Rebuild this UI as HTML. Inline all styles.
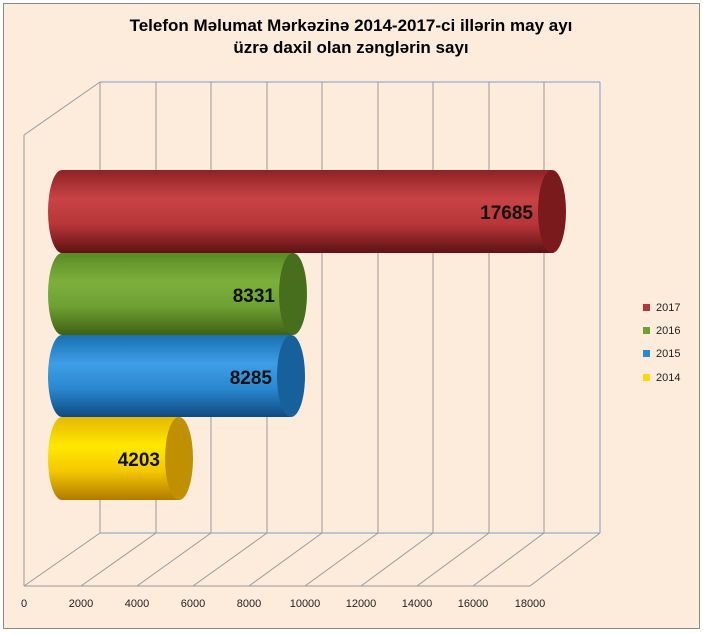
<!DOCTYPE html>
<html><head><meta charset="utf-8"><style>
html,body{margin:0;padding:0;background:#fff}
svg{display:block}
text{font-family:"Liberation Sans",Arial,sans-serif}
</style></head><body>
<svg width="703" height="634" viewBox="0 0 703 634" xmlns="http://www.w3.org/2000/svg">
<defs>
<linearGradient id="gr" x1="0" y1="0" x2="0" y2="1"><stop offset="0" stop-color="#8e2224"/><stop offset="0.35" stop-color="#c84345"/><stop offset="0.65" stop-color="#b83638"/><stop offset="1" stop-color="#5e1213"/></linearGradient>
<linearGradient id="gg" x1="0" y1="0" x2="0" y2="1"><stop offset="0" stop-color="#5a8a24"/><stop offset="0.35" stop-color="#7cb03c"/><stop offset="0.65" stop-color="#6fa032"/><stop offset="1" stop-color="#3d6115"/></linearGradient>
<linearGradient id="gb" x1="0" y1="0" x2="0" y2="1"><stop offset="0" stop-color="#1a6fb0"/><stop offset="0.35" stop-color="#3d9ee6"/><stop offset="0.65" stop-color="#2a88d0"/><stop offset="1" stop-color="#0e4a80"/></linearGradient>
<linearGradient id="gy" x1="0" y1="0" x2="0" y2="1"><stop offset="0" stop-color="#e6b800"/><stop offset="0.35" stop-color="#ffe800"/><stop offset="0.65" stop-color="#f5c800"/><stop offset="1" stop-color="#b07a00"/></linearGradient>
</defs>
<rect x="0" y="0" width="703" height="634" fill="#fff"/>
<rect x="3.5" y="3.5" width="696" height="625" fill="#fdebdc" stroke="#8a8a8a"/>
<text x="351" y="31" text-anchor="middle" font-size="17" font-weight="bold">Telefon Məlumat Mərkəzinə  2014-2017-ci  illərin may ayı</text>
<text x="351" y="53" text-anchor="middle" font-size="17" font-weight="bold">üzrə  daxil  olan zənglərin sayı</text>
<g stroke="#9a9a9a" fill="none" stroke-width="1">
<line x1="100" y1="82" x2="600" y2="82" stroke="#7f9fc8"/>
<line x1="600" y1="82" x2="600" y2="533" stroke="#7f9fc8"/>
<line x1="100" y1="533" x2="600" y2="533" stroke="#7f9fc8"/>
<line x1="24" y1="135" x2="100" y2="82"/>
<line x1="24" y1="135" x2="24" y2="586"/>
<line x1="24" y1="586" x2="530" y2="586"/>
<line x1="530" y1="586" x2="600" y2="533"/>
<g id="gl">
<line x1="100" y1="82" x2="100" y2="533"/><line x1="156" y1="82" x2="156" y2="533"/><line x1="211" y1="82" x2="211" y2="533"/><line x1="267" y1="82" x2="267" y2="533"/><line x1="322" y1="82" x2="322" y2="533"/><line x1="378" y1="82" x2="378" y2="533"/><line x1="433" y1="82" x2="433" y2="533"/><line x1="489" y1="82" x2="489" y2="533"/><line x1="544" y1="82" x2="544" y2="533"/>
<line x1="24" y1="586" x2="100" y2="533"/><line x1="81" y1="586" x2="156" y2="533"/><line x1="137" y1="586" x2="211" y2="533"/><line x1="193" y1="586" x2="267" y2="533"/><line x1="249" y1="586" x2="322" y2="533"/><line x1="305" y1="586" x2="378" y2="533"/><line x1="361" y1="586" x2="433" y2="533"/><line x1="417" y1="586" x2="489" y2="533"/><line x1="473" y1="586" x2="544" y2="533"/>
</g></g>
<!-- bars -->
<g>
<path d="M62,170 H552 V253 H62 A14,41.5 0 0 1 62,170Z" fill="url(#gr)"/>
<ellipse cx="552" cy="211.5" rx="14" ry="41.5" fill="#7a1a1c"/>
<path d="M62,253 H293 V335 H62 A14,41 0 0 1 62,253Z" fill="url(#gg)"/>
<ellipse cx="293" cy="294" rx="14" ry="41" fill="#466e1c"/>
<path d="M62,335 H291 V417 H62 A14,41 0 0 1 62,335Z" fill="url(#gb)"/>
<ellipse cx="291" cy="376" rx="14" ry="41" fill="#16609c"/>
<path d="M62,417 H179 V500 H62 A14,41.5 0 0 1 62,417Z" fill="url(#gy)"/>
<ellipse cx="179" cy="458.5" rx="14" ry="41.5" fill="#c09000"/>
</g>
<g font-size="19" font-weight="bold" text-anchor="end" fill="#111">
<text x="533" y="219">17685</text>
<text x="275" y="302">8331</text>
<text x="272" y="384">8285</text>
<text x="160" y="466">4203</text>
</g>
<g font-size="11" fill="#222">
<text x="24" y="607" text-anchor="middle">0</text>
<text x="81" y="607" text-anchor="middle">2000</text>
<text x="137" y="607" text-anchor="middle">4000</text>
<text x="193" y="607" text-anchor="middle">6000</text>
<text x="249" y="607" text-anchor="middle">8000</text>
<text x="305" y="607" text-anchor="middle">10000</text>
<text x="361" y="607" text-anchor="middle">12000</text>
<text x="417" y="607" text-anchor="middle">14000</text>
<text x="473" y="607" text-anchor="middle">16000</text>
<text x="530" y="607" text-anchor="middle">18000</text>
</g>
<g font-size="11" fill="#222">
<rect x="643" y="304" width="7" height="7" fill="#b83638"/><text x="656" y="311">2017</text>
<rect x="643" y="327" width="7" height="7" fill="#6fa032"/><text x="656" y="334">2016</text>
<rect x="643" y="350" width="7" height="7" fill="#2a88d0"/><text x="656" y="357">2015</text>
<rect x="643" y="374" width="7" height="7" fill="#ffd800"/><text x="656" y="381">2014</text>
</g>
</svg>
</body></html>
